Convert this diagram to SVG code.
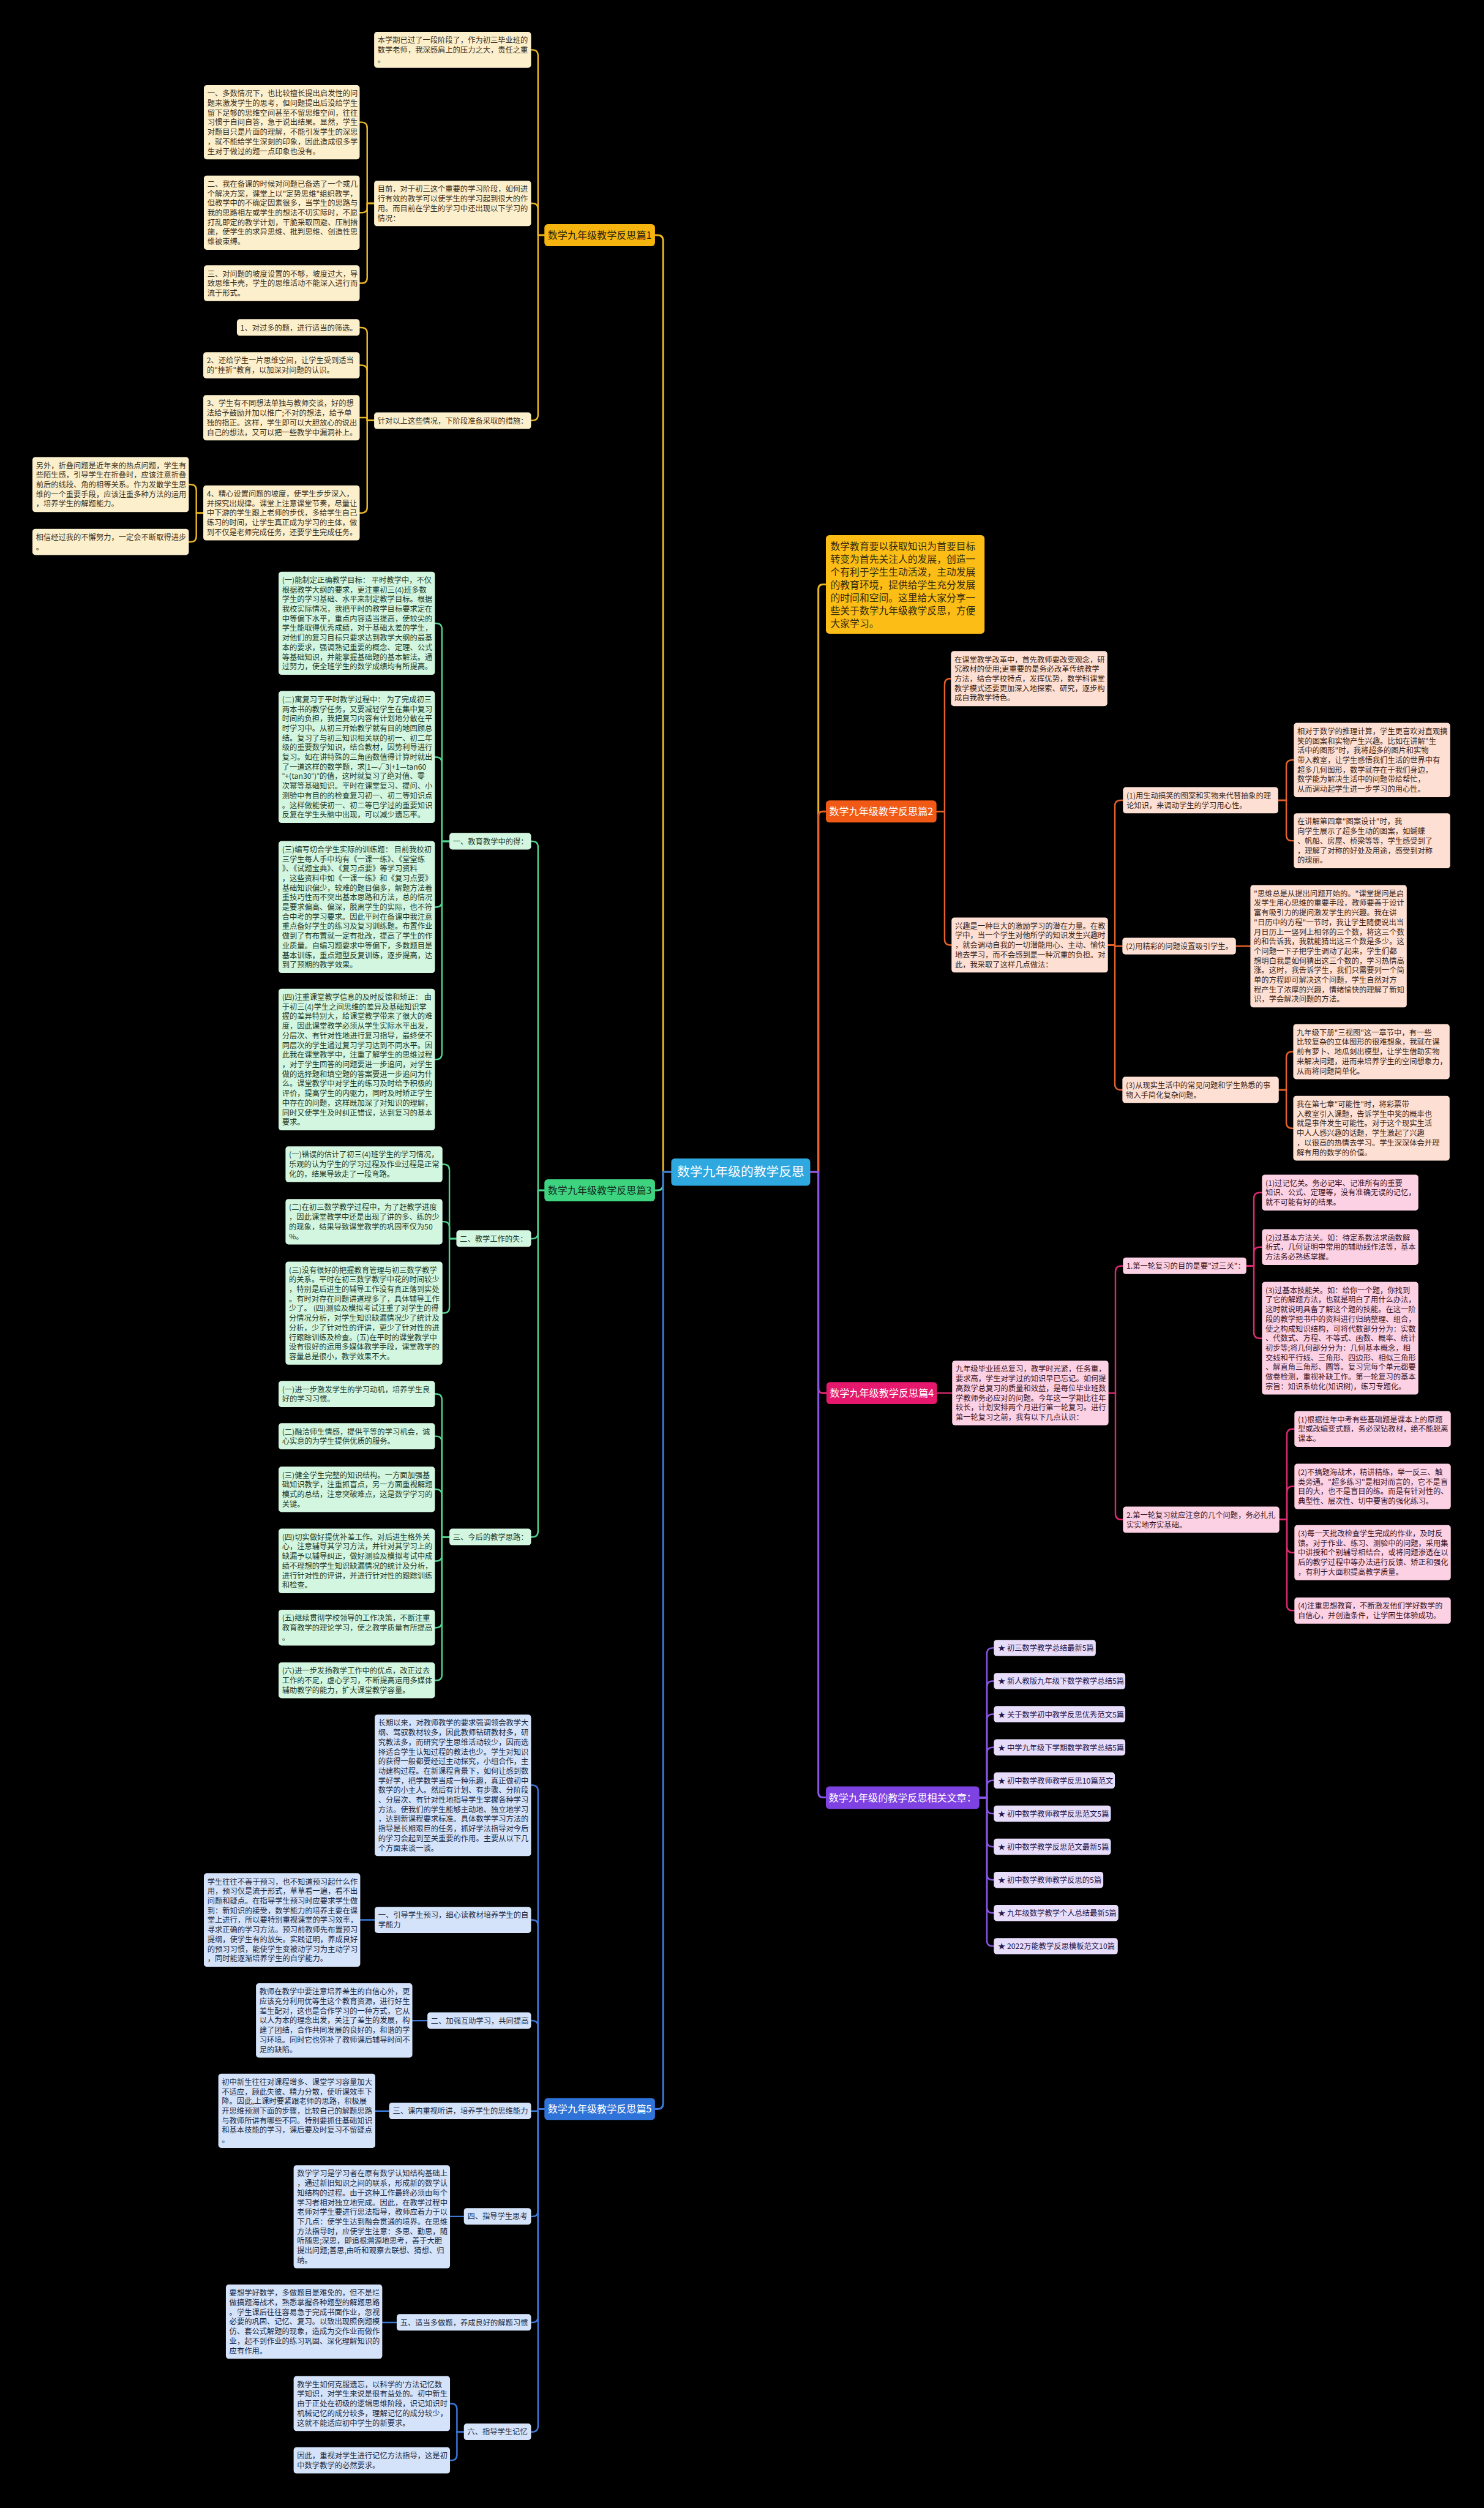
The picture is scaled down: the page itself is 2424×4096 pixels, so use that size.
<svg xmlns="http://www.w3.org/2000/svg" width="2424" height="4096" viewBox="0 0 2424 4096">
<style>
.tx{font-family:"Noto Sans CJK SC","Noto Sans CJK JP","Noto Sans",sans-serif;font-size:13px}
.mx{font-family:"Noto Sans CJK SC","Noto Sans CJK JP","Noto Sans",sans-serif;font-size:17px;text-anchor:middle}
.ln{fill:none;stroke-width:2.6;stroke-linecap:round;stroke-linejoin:round}
.tk{stroke-width:3.2}
.lY{stroke:#e9b425}.lG{stroke:#52d18c}.lB{stroke:#3b78d8}.lO{stroke:#e3622a}.lP{stroke:#dc2b71}.lV{stroke:#8a55e6}
.bY{fill:#fcefcc}.bG{fill:#d3f6e0}.bB{fill:#d4e3f9}.bO{fill:#fde0d3}.bP{fill:#fcd1e3}.bV{fill:#e7ddfa}
.cY{fill:#3a301c}.cG{fill:#1d3a2a}.cB{fill:#1b2a44}.cO{fill:#3a2418}.cP{fill:#3a1426}.cV{fill:#22154a}
</style>
<rect width="2424" height="4096" fill="#000"/>
<g transform="scale(0.946)">
<g id="connectors">
<path class="ln tk lY" d="M1159 2023 H1145 V416 Q1145 406 1135 406 H1131"/>
<path class="ln tk lG" d="M1159 2023 H1145 V2045 Q1145 2055 1135 2055 H1131"/>
<path class="ln tk lB" d="M1159 2023 H1145 V3631 Q1145 3641 1135 3641 H1131"/>
<path class="ln tk lY" d="M1399 2023 H1413 V1017 Q1413 1009 1421 1009 H1426"/>
<path class="ln tk lO" d="M1399 2023 H1413 V1409 Q1413 1401 1421 1401 H1426"/>
<path class="ln tk lP" d="M1399 2023 H1413 V2397 Q1413 2405 1421 2405 H1427"/>
<path class="ln tk lV" d="M1399 2023 H1413 V3095 Q1413 3103 1421 3103 H1426"/>
<path class="ln lY" d="M940 406 H929 V96 Q929 86 919 86 H917"/>
<path class="ln lY" d="M940 406 H929 V361 Q929 351 919 351 H917"/>
<path class="ln lY" d="M940 406 H929 V716 Q929 726 919 726 H917"/>
<path class="ln lY" d="M646 351 H634 V221 Q634 211 624 211 H621"/>
<path class="ln lY" d="M646 351 H634 V359 Q634 367 626 367 H621"/>
<path class="ln lY" d="M646 351 H634 V479 Q634 489 624 489 H621"/>
<path class="ln lY" d="M646 726 H634 V575.5 Q634 565.5 624 565.5 H621"/>
<path class="ln lY" d="M646 726 H634 V640.5 Q634 630.5 624 630.5 H621"/>
<path class="ln lY" d="M646 726 H634 V723.5 Q634 721 631.5 721 H621"/>
<path class="ln lY" d="M646 726 H634 V875.5 Q634 885.5 624 885.5 H621"/>
<path class="ln lY" d="M351 885.5 H339 V846.5 Q339 836.5 329 836.5 H326"/>
<path class="ln lY" d="M351 885.5 H339 V925.5 Q339 935.5 329 935.5 H326"/>
<path class="ln lG" d="M940 2055 H929 V1462.5 Q929 1452.5 919 1452.5 H917"/>
<path class="ln lG" d="M940 2055 H929 V2128.5 Q929 2138.5 919 2138.5 H917"/>
<path class="ln lG" d="M940 2055 H929 V2643.5 Q929 2653.5 919 2653.5 H917"/>
<path class="ln lG" d="M776 1452.5 H763 V1086 Q763 1076 753 1076 H751"/>
<path class="ln lG" d="M776 1452.5 H763 V1317 Q763 1307 753 1307 H751"/>
<path class="ln lG" d="M776 1452.5 H763 V1556 Q763 1566 753 1566 H751"/>
<path class="ln lG" d="M776 1452.5 H763 V1819 Q763 1829 753 1829 H751"/>
<path class="ln lG" d="M788 2138.5 H776 V2020 Q776 2010 766 2010 H764"/>
<path class="ln lG" d="M788 2138.5 H776 V2119 Q776 2109 766 2109 H764"/>
<path class="ln lG" d="M788 2138.5 H776 V2257 Q776 2267 766 2267 H764"/>
<path class="ln lG" d="M776 2653.5 H763 V2416.5 Q763 2406.5 753 2406.5 H751"/>
<path class="ln lG" d="M776 2653.5 H763 V2489.5 Q763 2479.5 753 2479.5 H751"/>
<path class="ln lG" d="M776 2653.5 H763 V2581 Q763 2571 753 2571 H751"/>
<path class="ln lG" d="M776 2653.5 H763 V2685 Q763 2695 753 2695 H751"/>
<path class="ln lG" d="M776 2653.5 H763 V2800 Q763 2810 753 2810 H751"/>
<path class="ln lG" d="M776 2653.5 H763 V2891 Q763 2901 753 2901 H751"/>
<path class="ln lB" d="M940 3641 H929 V3092 Q929 3082 919 3082 H917"/>
<path class="ln lB" d="M940 3641 H929 V3324.5 Q929 3314.5 919 3314.5 H917"/>
<path class="ln lB" d="M940 3641 H929 V3498.5 Q929 3488.5 919 3488.5 H917"/>
<path class="ln lB" d="M940 3641 H929 V3642.8 Q929 3644.5 927 3644.5 H917"/>
<path class="ln lB" d="M940 3641 H929 V3816.5 Q929 3826.5 919 3826.5 H917"/>
<path class="ln lB" d="M940 3641 H929 V3999.5 Q929 4009.5 919 4009.5 H917"/>
<path class="ln lB" d="M940 3641 H929 V4188.5 Q929 4198.5 919 4198.5 H917"/>
<path class="ln lB" d="M647 3314.5 H622"/>
<path class="ln lB" d="M738 3488.5 H712"/>
<path class="ln lB" d="M672 3644.5 H648"/>
<path class="ln lB" d="M801 3826.5 H777"/>
<path class="ln lB" d="M685 4009.5 H660"/>
<path class="ln lB" d="M801 4198.5 H789 V4159.5 Q789 4149.5 779 4149.5 H777"/>
<path class="ln lB" d="M801 4198.5 H789 V4237.5 Q789 4247.5 779 4247.5 H777"/>
<path class="ln lO" d="M1617 1401 H1631 V1181.5 Q1631 1171.5 1641 1171.5 H1642"/>
<path class="ln lO" d="M1617 1401 H1631 V1621.5 Q1631 1631.5 1641 1631.5 H1643"/>
<path class="ln lO" d="M1913 1631.5 H1925 V1391.5 Q1925 1381.5 1935 1381.5 H1939"/>
<path class="ln lO" d="M1913 1631.5 H1925 V1633.5 H1938"/>
<path class="ln lO" d="M1913 1631.5 H1925 V1871.5 Q1925 1881.5 1935 1881.5 H1938"/>
<path class="ln lO" d="M2207 1381.5 H2221 V1322 Q2221 1312 2231 1312 H2234"/>
<path class="ln lO" d="M2207 1381.5 H2221 V1441.5 Q2221 1451.5 2231 1451.5 H2234"/>
<path class="ln lO" d="M2134 1633.5 H2159"/>
<path class="ln lO" d="M2208 1881.5 H2221 V1825.5 Q2221 1815.5 2231 1815.5 H2233"/>
<path class="ln lO" d="M2208 1881.5 H2221 V1938 Q2221 1948 2231 1948 H2233"/>
<path class="ln lP" d="M1618 2405 H1644"/>
<path class="ln lP" d="M1914 2405 H1926 V2195.5 Q1926 2185.5 1936 2185.5 H1939"/>
<path class="ln lP" d="M1914 2405 H1926 V2613.5 Q1926 2623.5 1936 2623.5 H1939"/>
<path class="ln lP" d="M2152 2185.5 H2165 V2069 Q2165 2059 2175 2059 H2179"/>
<path class="ln lP" d="M2152 2185.5 H2165 V2163 Q2165 2153 2175 2153 H2179"/>
<path class="ln lP" d="M2152 2185.5 H2165 V2300.5 Q2165 2310.5 2175 2310.5 H2179"/>
<path class="ln lP" d="M2209 2623.5 H2222 V2477 Q2222 2467 2232 2467 H2235"/>
<path class="ln lP" d="M2209 2623.5 H2222 V2576 Q2222 2566 2232 2566 H2235"/>
<path class="ln lP" d="M2209 2623.5 H2222 V2670.5 Q2222 2680.5 2232 2680.5 H2235"/>
<path class="ln lP" d="M2209 2623.5 H2222 V2770.5 Q2222 2780.5 2232 2780.5 H2235"/>
<path class="ln lV" d="M1691 3103.5 H1704 V2855 Q1704 2845 1714 2845 H1716"/>
<path class="ln lV" d="M1691 3103.5 H1704 V2912.2 Q1704 2902.2 1714 2902.2 H1716"/>
<path class="ln lV" d="M1691 3103.5 H1704 V2969.4 Q1704 2959.4 1714 2959.4 H1716"/>
<path class="ln lV" d="M1691 3103.5 H1704 V3026.6 Q1704 3016.6 1714 3016.6 H1716"/>
<path class="ln lV" d="M1691 3103.5 H1704 V3083.8 Q1704 3073.8 1714 3073.8 H1716"/>
<path class="ln lV" d="M1691 3103.5 H1704 V3121 Q1704 3131 1714 3131 H1716"/>
<path class="ln lV" d="M1691 3103.5 H1704 V3178.2 Q1704 3188.2 1714 3188.2 H1716"/>
<path class="ln lV" d="M1691 3103.5 H1704 V3235.4 Q1704 3245.4 1714 3245.4 H1716"/>
<path class="ln lV" d="M1691 3103.5 H1704 V3292.6 Q1704 3302.6 1714 3302.6 H1716"/>
<path class="ln lV" d="M1691 3103.5 H1704 V3349.8 Q1704 3359.8 1714 3359.8 H1716"/>
</g>

<g id="n-center"><rect x="1159" y="2000" width="240" height="47" rx="6" fill="#2fa8e0"/><text class="mx" x="1279" y="2031" style="font-size:22px" fill="#fff">数学九年级的教学反思</text></g>
<g id="n-intro"><rect x="1426" y="924" width="274" height="170" rx="6" fill="#fbbd16"/><text class="tx" style="font-size:16.7px" fill="#332a10"><tspan x="1434" y="949.7">数学教育要以获取知识为首要目标</tspan><tspan x="1434" dy="22.2">转变为首先关注人的发展，创造一</tspan><tspan x="1434" dy="22.2">个有利于学生生动活泼，主动发展</tspan><tspan x="1434" dy="22.2">的教育环境，提供给学生充分发展</tspan><tspan x="1434" dy="22.2">的时间和空间。这里给大家分享一</tspan><tspan x="1434" dy="22.2">些关于数学九年级教学反思，方便</tspan><tspan x="1434" dy="22.2">大家学习。</tspan></text></g>

<g id="n-b1"><rect x="940" y="387" width="191" height="38" rx="6" fill="#f6b40e"/><text class="mx" x="1035.5" y="412" fill="#2b2410">数学九年级教学反思篇1</text></g>
<g id="n-b2"><rect x="1426" y="1382" width="191" height="38" rx="6" fill="#f05a16"/><text class="mx" x="1521.5" y="1407" fill="#fff">数学九年级教学反思篇2</text></g>
<g id="n-b3"><rect x="940" y="2036" width="191" height="38" rx="6" fill="#3ed47f"/><text class="mx" x="1035.5" y="2061" fill="#14301f">数学九年级教学反思篇3</text></g>
<g id="n-b4"><rect x="1427" y="2386" width="191" height="38" rx="6" fill="#e6186d"/><text class="mx" x="1522.5" y="2411" fill="#fff">数学九年级教学反思篇4</text></g>
<g id="n-b5"><rect x="940" y="3622" width="191" height="38" rx="6" fill="#2f73d9"/><text class="mx" x="1035.5" y="3647" fill="#fff">数学九年级教学反思篇5</text></g>
<g id="n-b6"><rect x="1426" y="3084" width="265" height="39" rx="6" fill="#7e42e3"/><text class="mx" x="1558.5" y="3109.5" fill="#fff">数学九年级的教学反思相关文章：</text></g>

<g id="n-y1"><rect class="bY" x="646" y="55" width="271" height="62" rx="5"/><text class="tx cY"><tspan x="652" y="74.3">本学期已过了一段阶段了，作为初三毕业班的</tspan><tspan x="652" dy="16.6">数学老师，我深感肩上的压力之大，责任之重</tspan><tspan x="652" dy="16.6">。</tspan></text></g>
<g id="n-y2"><rect class="bY" x="646" y="312" width="271" height="78.4" rx="5"/><text class="tx cY"><tspan x="652" y="331.3">目前，对于初三这个重要的学习阶段，如何进</tspan><tspan x="652" dy="16.6">行有效的教学可以使学生的学习起到很大的作</tspan><tspan x="652" dy="16.6">用。而目前在学生的学习中还出现以下学习的</tspan><tspan x="652" dy="16.6">情况：</tspan></text></g>
<g id="n-y2a"><rect class="bY" x="352" y="147" width="269" height="128.2" rx="5"/><text class="tx cY"><tspan x="358" y="166.3">一、多数情况下，也比较擅长提出启发性的问</tspan><tspan x="358" dy="16.6">题来激发学生的思考，但问题提出后没给学生</tspan><tspan x="358" dy="16.6">留下足够的思维空间甚至不留思维空间，往往</tspan><tspan x="358" dy="16.6">习惯于自问自答，急于说出结果。显然，学生</tspan><tspan x="358" dy="16.6">对题目只是片面的理解，不能引发学生的深思</tspan><tspan x="358" dy="16.6">，就不能给学生深刻的印象，因此造成很多学</tspan><tspan x="358" dy="16.6">生对于做过的题一点印象也没有。</tspan></text></g>
<g id="n-y2b"><rect class="bY" x="352" y="303" width="269" height="128.2" rx="5"/><text class="tx cY"><tspan x="358" y="322.3">二、我在备课的时候对问题已备选了一个或几</tspan><tspan x="358" dy="16.6">个解决方案，课堂上以"定势思维"组织教学，</tspan><tspan x="358" dy="16.6">但教学中的不确定因素很多，当学生的思路与</tspan><tspan x="358" dy="16.6">我的思路相左或学生的想法不切实际时，不愿</tspan><tspan x="358" dy="16.6">打乱即定的教学计划，干脆采取回避、压制措</tspan><tspan x="358" dy="16.6">施，使学生的求异思维、批判思维、创造性思</tspan><tspan x="358" dy="16.6">维被束缚。</tspan></text></g>
<g id="n-y2c"><rect class="bY" x="352" y="458" width="269" height="61.8" rx="5"/><text class="tx cY"><tspan x="358" y="477.3">三、对问题的坡度设置的不够，坡度过大，导</tspan><tspan x="358" dy="16.6">致思维卡壳，学生的思维活动不能深入进行而</tspan><tspan x="358" dy="16.6">流于形式。</tspan></text></g>
<g id="n-y3"><rect class="bY" x="646" y="712" width="271" height="28.6" rx="5"/><text class="tx cY"><tspan x="652" y="731.3">针对以上这些情况，下阶段准备采取的措施：</tspan></text></g>
<g id="n-y3a"><rect class="bY" x="409" y="551" width="212" height="28.6" rx="5"/><text class="tx cY"><tspan x="415" y="570.3">1、对过多的题，进行适当的筛选。</tspan></text></g>
<g id="n-y3b"><rect class="bY" x="351" y="608" width="270" height="45.2" rx="5"/><text class="tx cY"><tspan x="357" y="627.3">2、还给学生一片思维空间，让学生受到适当</tspan><tspan x="357" dy="16.6">的"挫折"教育，以加深对问题的认识。</tspan></text></g>
<g id="n-y3c"><rect class="bY" x="351" y="682" width="270" height="78.4" rx="5"/><text class="tx cY"><tspan x="357" y="701.3">3、学生有不同想法单独与教师交谈，好的想</tspan><tspan x="357" dy="16.6">法给予鼓励并加以推广;不对的想法，给予单</tspan><tspan x="357" dy="16.6">独的指正。这样，学生即可以大胆放心的说出</tspan><tspan x="357" dy="16.6">自己的想法，又可以把一些教学中漏洞补上。</tspan></text></g>
<g id="n-y3d"><rect class="bY" x="351" y="838" width="270" height="95" rx="5"/><text class="tx cY"><tspan x="357" y="857.3">4、精心设置问题的坡度，使学生步步深入，</tspan><tspan x="357" dy="16.6">并探究出规律。课堂上注意课堂节奏，尽量让</tspan><tspan x="357" dy="16.6">中下游的学生跟上老师的步伐，多给学生自己</tspan><tspan x="357" dy="16.6">练习的时间，让学生真正成为学习的主体，做</tspan><tspan x="357" dy="16.6">到不仅是老师完成任务，还要学生完成任务。</tspan></text></g>
<g id="n-y3d1"><rect class="bY" x="56" y="789" width="270" height="95" rx="5"/><text class="tx cY"><tspan x="62" y="808.3">另外，折叠问题是近年来的热点问题，学生有</tspan><tspan x="62" dy="16.6">些陌生感，引导学生在折叠时，应该注意折叠</tspan><tspan x="62" dy="16.6">前后的线段、角的相等关系。作为发散学生思</tspan><tspan x="62" dy="16.6">维的一个重要手段，应该注重多种方法的运用</tspan><tspan x="62" dy="16.6">，培养学生的解题能力。</tspan></text></g>
<g id="n-y3d2"><rect class="bY" x="56" y="913" width="270" height="45.2" rx="5"/><text class="tx cY"><tspan x="62" y="932.3">相信经过我的不懈努力，一定会不断取得进步</tspan><tspan x="62" dy="16.6">。</tspan></text></g>

<g id="n-g1"><rect class="bG" x="776" y="1438" width="141" height="28.6" rx="5"/><text class="tx cG"><tspan x="782" y="1457.3">一、教育教学中的得：</tspan></text></g>
<g id="n-g1a"><rect class="bG" x="481" y="987" width="270" height="178" rx="5"/><text class="tx cG"><tspan x="487" y="1006.3">(一)能制定正确教学目标： 平时教学中，不仅</tspan><tspan x="487" dy="16.6">根据教学大纲的要求，更注重初三(4)班多数</tspan><tspan x="487" dy="16.6">学生的学习基础、水平来制定教学目标。根据</tspan><tspan x="487" dy="16.6">我校实际情况，我把平时的教学目标要求定在</tspan><tspan x="487" dy="16.6">中等偏下水平，重点内容适当提高，使较尖的</tspan><tspan x="487" dy="16.6">学生能取得优秀成绩，对于基础太差的学生，</tspan><tspan x="487" dy="16.6">对他们的复习目标只要求达到教学大纲的最基</tspan><tspan x="487" dy="16.6">本的要求，强调熟记重要的概念、定理、公式</tspan><tspan x="487" dy="16.6">等基础知识，并能掌握基础题的基本解法。通</tspan><tspan x="487" dy="16.6">过努力，使全班学生的数学成绩均有所提高。</tspan></text></g>
<g id="n-g1b"><rect class="bG" x="481" y="1193" width="270" height="227.8" rx="5"/><text class="tx cG"><tspan x="487" y="1212.3">(二)寓复习于平时教学过程中： 为了完成初三</tspan><tspan x="487" dy="16.6">两本书的教学任务，又要减轻学生在集中复习</tspan><tspan x="487" dy="16.6">时间的负担，我把复习内容有计划地分散在平</tspan><tspan x="487" dy="16.6">时学习中。从初三开始教学就有目的地回顾总</tspan><tspan x="487" dy="16.6">结。复习了与初三知识相关联的初一、初二年</tspan><tspan x="487" dy="16.6">级的重要数学知识，结合教材，因势利导进行</tspan><tspan x="487" dy="16.6">复习。如在讲特殊的三角函数值得计算时就出</tspan><tspan x="487" dy="16.6">了一道这样的数学题，求|1—√3|+1—tan60</tspan><tspan x="487" dy="16.6">°+(tan30°)°的值，这时就复习了绝对值、零</tspan><tspan x="487" dy="16.6">次幂等基础知识。平时在课堂复习、提问、小</tspan><tspan x="487" dy="16.6">测验中有目的的检查复习初一、初二等知识点</tspan><tspan x="487" dy="16.6">。这样做能使初一、初二等已学过的重要知识</tspan><tspan x="487" dy="16.6">反复在学生头脑中出现，可以减少遗忘率。</tspan></text></g>
<g id="n-g1c"><rect class="bG" x="481" y="1452" width="270" height="227.8" rx="5"/><text class="tx cG"><tspan x="487" y="1471.3">(三)编写切合学生实际的训练题： 目前我校初</tspan><tspan x="487" dy="16.6">三学生每人手中均有《一课一练》、《堂堂练</tspan><tspan x="487" dy="16.6">》、《试题宝典》、《复习点要》等学习资料</tspan><tspan x="487" dy="16.6">，这些资料中如《一课一练》和《复习点要》</tspan><tspan x="487" dy="16.6">基础知识偏少，较难的题目偏多，解题方法着</tspan><tspan x="487" dy="16.6">重技巧性而不突出基本思路和方法，总的情况</tspan><tspan x="487" dy="16.6">是要求偏高、偏深，脱离学生的实际，也不符</tspan><tspan x="487" dy="16.6">合中考的学习要求。因此平时在备课中我注意</tspan><tspan x="487" dy="16.6">重点备好学生的练习及复习训练题。布置作业</tspan><tspan x="487" dy="16.6">做到了有布置就一定有批改，提高了学生的作</tspan><tspan x="487" dy="16.6">业质量。自编习题要求中等偏下，多数题目是</tspan><tspan x="487" dy="16.6">基本训练，重点题型反复训练，逐步提高，达</tspan><tspan x="487" dy="16.6">到了预期的教学效果。</tspan></text></g>
<g id="n-g1d"><rect class="bG" x="481" y="1707" width="270" height="244.4" rx="5"/><text class="tx cG"><tspan x="487" y="1726.3">(四)注重课堂教学信息的及时反馈和矫正： 由</tspan><tspan x="487" dy="16.6">于初三(4)学生之间思维的差异及基础知识掌</tspan><tspan x="487" dy="16.6">握的差异特别大，给课堂教学带来了很大的难</tspan><tspan x="487" dy="16.6">度，因此课堂教学必须从学生实际水平出发，</tspan><tspan x="487" dy="16.6">分层次、有针对性地进行复习指导，最终使不</tspan><tspan x="487" dy="16.6">同层次的学生通过复习学习达到不同水平。因</tspan><tspan x="487" dy="16.6">此我在课堂教学中，注重了解学生的思维过程</tspan><tspan x="487" dy="16.6">，对于学生回答的问题要进一步追问，对学生</tspan><tspan x="487" dy="16.6">做的选择题和填空题的答案要进一步追问为什</tspan><tspan x="487" dy="16.6">么。课堂教学中对学生的练习及时给予积极的</tspan><tspan x="487" dy="16.6">评价，提高学生的内驱力，同时及时矫正学生</tspan><tspan x="487" dy="16.6">中存在的问题，这样既加深了对知识的理解，</tspan><tspan x="487" dy="16.6">同时又使学生及时纠正错误，达到复习的基本</tspan><tspan x="487" dy="16.6">要求。</tspan></text></g>
<g id="n-g2"><rect class="bG" x="788" y="2124" width="129" height="28.6" rx="5"/><text class="tx cG"><tspan x="794" y="2143.3">二、教学工作的失：</tspan></text></g>
<g id="n-g2a"><rect class="bG" x="493" y="1979" width="271" height="61.8" rx="5"/><text class="tx cG"><tspan x="499" y="1998.3">(一)错误的估计了初三(4)班学生的学习情况，</tspan><tspan x="499" dy="16.6">乐观的认为学生的学习过程及作业过程是正常</tspan><tspan x="499" dy="16.6">化的，结果导致走了一段弯路。</tspan></text></g>
<g id="n-g2b"><rect class="bG" x="493" y="2070" width="271" height="78.4" rx="5"/><text class="tx cG"><tspan x="499" y="2089.3">(二)在初三数学教学过程中，为了赶教学进度</tspan><tspan x="499" dy="16.6">，因此课堂教学中还是出现了讲的多、练的少</tspan><tspan x="499" dy="16.6">的现象，结果导致课堂教学的巩固率仅为50</tspan><tspan x="499" dy="16.6">%。</tspan></text></g>
<g id="n-g2c"><rect class="bG" x="493" y="2178" width="271" height="178" rx="5"/><text class="tx cG"><tspan x="499" y="2197.3">(三)没有很好的把握教育管理与初三数学教学</tspan><tspan x="499" dy="16.6">的关系。平时在初三数学教学中花的时间较少</tspan><tspan x="499" dy="16.6">，特别是后进生的辅导工作没有真正落到实处</tspan><tspan x="499" dy="16.6">。有时对存在问题讲道理多了，具体辅导工作</tspan><tspan x="499" dy="16.6">少了。 (四)测验及模拟考试注重了对学生的得</tspan><tspan x="499" dy="16.6">分情况分析，对学生知识缺漏情况少了统计及</tspan><tspan x="499" dy="16.6">分析，少了针对性的评讲，更少了针对性的进</tspan><tspan x="499" dy="16.6">行跟踪训练及检查。(五)在平时的课堂教学中</tspan><tspan x="499" dy="16.6">没有很好的运用多媒体教学手段，课堂教学的</tspan><tspan x="499" dy="16.6">容量总是很小，教学效果不大。</tspan></text></g>
<g id="n-g3"><rect class="bG" x="776" y="2639" width="141" height="28.6" rx="5"/><text class="tx cG"><tspan x="782" y="2658.3">三、今后的教学思路：</tspan></text></g>
<g id="n-g3a"><rect class="bG" x="481" y="2384" width="270" height="45.2" rx="5"/><text class="tx cG"><tspan x="487" y="2403.3">(一)进一步激发学生的学习动机，培养学生良</tspan><tspan x="487" dy="16.6">好的学习习惯。</tspan></text></g>
<g id="n-g3b"><rect class="bG" x="481" y="2457" width="270" height="45.2" rx="5"/><text class="tx cG"><tspan x="487" y="2476.3">(二)融洽师生情感，提供平等的学习机会，诚</tspan><tspan x="487" dy="16.6">心实意的为学生提供优质的服务。</tspan></text></g>
<g id="n-g3c"><rect class="bG" x="481" y="2532" width="270" height="78.4" rx="5"/><text class="tx cG"><tspan x="487" y="2551.3">(三)健全学生完整的知识结构。一方面加强基</tspan><tspan x="487" dy="16.6">础知识教学，注重抓盲点，另一方面重视解题</tspan><tspan x="487" dy="16.6">模式的总结，注意突破难点，这是数学学习的</tspan><tspan x="487" dy="16.6">关键。</tspan></text></g>
<g id="n-g3d"><rect class="bG" x="481" y="2639" width="270" height="111.6" rx="5"/><text class="tx cG"><tspan x="487" y="2658.3">(四)切实做好提优补差工作。对后进生格外关</tspan><tspan x="487" dy="16.6">心，注意辅导其学习方法，并针对其学习上的</tspan><tspan x="487" dy="16.6">缺漏予以辅导纠正，做好测验及模拟考试中成</tspan><tspan x="487" dy="16.6">绩不理想的学生知识缺漏情况的统计及分析，</tspan><tspan x="487" dy="16.6">进行针对性的评讲，并进行针对性的跟踪训练</tspan><tspan x="487" dy="16.6">和检查。</tspan></text></g>
<g id="n-g3e"><rect class="bG" x="481" y="2779" width="270" height="61.8" rx="5"/><text class="tx cG"><tspan x="487" y="2798.3">(五)继续贯彻学校领导的工作决策，不断注重</tspan><tspan x="487" dy="16.6">教育教学的理论学习，使之教学质量有所提高</tspan><tspan x="487" dy="16.6">。</tspan></text></g>
<g id="n-g3f"><rect class="bG" x="481" y="2870" width="270" height="61.8" rx="5"/><text class="tx cG"><tspan x="487" y="2889.3">(六)进一步发扬教学工作中的优点，改正过去</tspan><tspan x="487" dy="16.6">工作的不足，虚心学习，不断提高运用多媒体</tspan><tspan x="487" dy="16.6">辅助教学的能力，扩大课堂教学容量。</tspan></text></g>

<g id="n-u1"><rect class="bB" x="647" y="2960" width="270" height="244.4" rx="5"/><text class="tx cB"><tspan x="653" y="2979.3">长期以来，对教师教学的要求强调领会教学大</tspan><tspan x="653" dy="16.6">纲、驾驭教材较多，因此教师钻研教材多，研</tspan><tspan x="653" dy="16.6">究教法多，而研究学生思维活动较少，因而选</tspan><tspan x="653" dy="16.6">择适合学生认知过程的教法也少。学生对知识</tspan><tspan x="653" dy="16.6">的获得一般都要经过主动探究，小组合作，主</tspan><tspan x="653" dy="16.6">动建构过程。在新课程背景下，如何让感到数</tspan><tspan x="653" dy="16.6">学好学，把学数学当成一种乐趣，真正做初中</tspan><tspan x="653" dy="16.6">数学的小主人。然后有计划、有步骤、分阶段</tspan><tspan x="653" dy="16.6">、分层次、有针对性地指导学生掌握各种学习</tspan><tspan x="653" dy="16.6">方法。使我们的学生能够主动地、独立地学习</tspan><tspan x="653" dy="16.6">，达到新课程要求标准。具体数学学习方法的</tspan><tspan x="653" dy="16.6">指导是长期艰巨的任务，抓好学法指导对今后</tspan><tspan x="653" dy="16.6">的学习会起到至关重要的作用。主要从以下几</tspan><tspan x="653" dy="16.6">个方面来谈一谈。</tspan></text></g>
<g id="n-u2"><rect class="bB" x="647" y="3292" width="270" height="45.2" rx="5"/><text class="tx cB"><tspan x="653" y="3311.3">一、引导学生预习，细心读教材培养学生的自</tspan><tspan x="653" dy="16.6">学能力</tspan></text></g>
<g id="n-u2a"><rect class="bB" x="352" y="3234" width="270" height="161.4" rx="5"/><text class="tx cB"><tspan x="358" y="3253.3">学生往往不善于预习，也不知道预习起什么作</tspan><tspan x="358" dy="16.6">用，预习仅是流于形式，草草看一遍，看不出</tspan><tspan x="358" dy="16.6">问题和疑点。在指导学生预习时应要求学生做</tspan><tspan x="358" dy="16.6">到：新知识的接受，数学能力的培养主要在课</tspan><tspan x="358" dy="16.6">堂上进行，所以要特别重视课堂的学习效率，</tspan><tspan x="358" dy="16.6">寻求正确的学习方法。预习前教师先布置预习</tspan><tspan x="358" dy="16.6">提纲，使学生有的放矢。实践证明，养成良好</tspan><tspan x="358" dy="16.6">的预习习惯，能使学生变被动学习为主动学习</tspan><tspan x="358" dy="16.6">，同时能逐渐培养学生的自学能力。</tspan></text></g>
<g id="n-u3"><rect class="bB" x="738" y="3474" width="179" height="28.6" rx="5"/><text class="tx cB"><tspan x="744" y="3493.3">二、加强互助学习，共同提高</tspan></text></g>
<g id="n-u3a"><rect class="bB" x="442" y="3424" width="270" height="128.2" rx="5"/><text class="tx cB"><tspan x="448" y="3443.3">教师在教学中要注意培养差生的自信心外，更</tspan><tspan x="448" dy="16.6">应该充分利用优等生这个教育资源，进行好生</tspan><tspan x="448" dy="16.6">差生配对，这也是合作学习的一种方式，它从</tspan><tspan x="448" dy="16.6">以人为本的理念出发，关注了差生的发展，构</tspan><tspan x="448" dy="16.6">建了团结，合作共同发展的良好的，和谐的学</tspan><tspan x="448" dy="16.6">习环境。同时它也弥补了教师课后辅导时间不</tspan><tspan x="448" dy="16.6">足的缺陷。</tspan></text></g>
<g id="n-u4"><rect class="bB" x="672" y="3630" width="245" height="28.6" rx="5"/><text class="tx cB"><tspan x="678" y="3649.3">三、课内重视听讲，培养学生的思维能力</tspan></text></g>
<g id="n-u4a"><rect class="bB" x="377" y="3580" width="271" height="128.2" rx="5"/><text class="tx cB"><tspan x="383" y="3599.3">初中新生往往对课程增多、课堂学习容量加大</tspan><tspan x="383" dy="16.6">不适应，顾此失彼、精力分散，使听课效率下</tspan><tspan x="383" dy="16.6">降。因此,上课时要紧跟老师的思路，积极展</tspan><tspan x="383" dy="16.6">开思维预测下面的步骤，比较自己的解题思路</tspan><tspan x="383" dy="16.6">与教师所讲有哪些不同。特别要抓住基础知识</tspan><tspan x="383" dy="16.6">和基本技能的学习，课后要及时复习不留疑点</tspan><tspan x="383" dy="16.6">。</tspan></text></g>
<g id="n-u5"><rect class="bB" x="801" y="3812" width="116" height="28.6" rx="5"/><text class="tx cB"><tspan x="807" y="3831.3">四、指导学生思考</tspan></text></g>
<g id="n-u5a"><rect class="bB" x="507" y="3738" width="270" height="178" rx="5"/><text class="tx cB"><tspan x="513" y="3757.3">数学学习是学习者在原有数学认知结构基础上</tspan><tspan x="513" dy="16.6">，通过新旧知识之间的联系，形成新的数学认</tspan><tspan x="513" dy="16.6">知结构的过程。由于这种工作最终必须由每个</tspan><tspan x="513" dy="16.6">学习者相对独立地完成。因此，在教学过程中</tspan><tspan x="513" dy="16.6">老师对学生要进行思法指导，教师应着力于以</tspan><tspan x="513" dy="16.6">下几点：使学生达到融会贯通的境界。在思维</tspan><tspan x="513" dy="16.6">方法指导时，应使学生注意：多思、勤思，随</tspan><tspan x="513" dy="16.6">听随思;深思，即追根溯源地思考，善于大胆</tspan><tspan x="513" dy="16.6">提出问题;善思,由听和观察去联想、猜想、归</tspan><tspan x="513" dy="16.6">纳。</tspan></text></g>
<g id="n-u6"><rect class="bB" x="685" y="3995" width="232" height="28.6" rx="5"/><text class="tx cB"><tspan x="691" y="4014.3">五、适当多做题，养成良好的解题习惯</tspan></text></g>
<g id="n-u6a"><rect class="bB" x="390" y="3944" width="270" height="128.2" rx="5"/><text class="tx cB"><tspan x="396" y="3963.3">要想学好数学，多做题目是难免的，但不是烂</tspan><tspan x="396" dy="16.6">做搞题海战术，熟悉掌握各种题型的解题思路</tspan><tspan x="396" dy="16.6">。学生课后往往容易急于完成书面作业，忽视</tspan><tspan x="396" dy="16.6">必要的巩固、记忆、复习。以致出现照例题模</tspan><tspan x="396" dy="16.6">仿、套公式解题的现象，造成为交作业而做作</tspan><tspan x="396" dy="16.6">业，起不到作业的练习巩固、深化理解知识的</tspan><tspan x="396" dy="16.6">应有作用。</tspan></text></g>
<g id="n-u7"><rect class="bB" x="801" y="4184" width="116" height="28.6" rx="5"/><text class="tx cB"><tspan x="807" y="4203.3">六、指导学生记忆</tspan></text></g>
<g id="n-u7a"><rect class="bB" x="507" y="4102" width="270" height="95" rx="5"/><text class="tx cB"><tspan x="513" y="4121.3">教学生如何克服遗忘，以科学的'方法记忆数</tspan><tspan x="513" dy="16.6">学知识，对学生来说是很有益处的。初中新生</tspan><tspan x="513" dy="16.6">由于正处在初级的逻辑思维阶段，识记知识时</tspan><tspan x="513" dy="16.6">机械记忆的成分较多，理解记忆的成分较少，</tspan><tspan x="513" dy="16.6">这就不能适应初中学生的新要求。</tspan></text></g>
<g id="n-u7b"><rect class="bB" x="507" y="4225" width="270" height="45.2" rx="5"/><text class="tx cB"><tspan x="513" y="4244.3">因此，重视对学生进行记忆方法指导，这是初</tspan><tspan x="513" dy="16.6">中数学教学的必然要求。</tspan></text></g>

<g id="n-o1"><rect class="bO" x="1642" y="1124" width="270" height="95" rx="5"/><text class="tx cO"><tspan x="1648" y="1143.3">在课堂教学改革中，首先教师要改变观念，研</tspan><tspan x="1648" dy="16.6">究教材的使用;更重要的是务必改革传统教学</tspan><tspan x="1648" dy="16.6">方法，结合学校特点，发挥优势，数学科课堂</tspan><tspan x="1648" dy="16.6">教学模式还要更加深入地探索、研究，逐步构</tspan><tspan x="1648" dy="16.6">成自我教学特色。</tspan></text></g>
<g id="n-o2"><rect class="bO" x="1643" y="1584" width="270" height="95" rx="5"/><text class="tx cO"><tspan x="1649" y="1603.3">兴趣是一种巨大的激励学习的潜在力量。在教</tspan><tspan x="1649" dy="16.6">学中，当一个学生对他所学的知识发生兴趣时</tspan><tspan x="1649" dy="16.6">，就会调动自我的一切潜能用心、主动、愉快</tspan><tspan x="1649" dy="16.6">地去学习，而不会感到是一种沉重的负担。对</tspan><tspan x="1649" dy="16.6">此，我采取了这样几点做法：</tspan></text></g>
<g id="n-o2a"><rect class="bO" x="1939" y="1359" width="268" height="45.2" rx="5"/><text class="tx cO"><tspan x="1945" y="1378.3">(1)用生动搞笑的图案和实物来代替抽象的理</tspan><tspan x="1945" dy="16.6">论知识，来调动学生的学习用心性。</tspan></text></g>
<g id="n-o2a1"><rect class="bO" x="2234" y="1248" width="270" height="128.2" rx="5"/><text class="tx cO"><tspan x="2240" y="1267.3">相对于数学的推理计算，学生更喜欢对直观搞</tspan><tspan x="2240" dy="16.6">笑的图案和实物产生兴趣。比如在讲解"生</tspan><tspan x="2240" dy="16.6">活中的图形"时，我将超多的图片和实物</tspan><tspan x="2240" dy="16.6">带入教室，让学生感悟我们生活的世界中有</tspan><tspan x="2240" dy="16.6">超多几何图形，数学就存在于我们身边，</tspan><tspan x="2240" dy="16.6">数学能为解决生活中的问题带给帮忙，</tspan><tspan x="2240" dy="16.6">从而调动起学生进一步学习的用心性。</tspan></text></g>
<g id="n-o2a2"><rect class="bO" x="2234" y="1404" width="270" height="95" rx="5"/><text class="tx cO"><tspan x="2240" y="1423.3">在讲解第四章"图案设计"时，我</tspan><tspan x="2240" dy="16.6">向学生展示了超多生动的图案，如蝴蝶</tspan><tspan x="2240" dy="16.6">、帆船、房屋、桥梁等等，学生感受到了</tspan><tspan x="2240" dy="16.6">，理解了对称的好处及用途，感受到对称</tspan><tspan x="2240" dy="16.6">的瑰丽。</tspan></text></g>
<g id="n-o2b"><rect class="bO" x="1938" y="1619" width="196" height="28.6" rx="5"/><text class="tx cO"><tspan x="1944" y="1638.3">(2)用精彩的问题设置吸引学生。</tspan></text></g>
<g id="n-o2b1"><rect class="bO" x="2159" y="1528" width="270" height="211.2" rx="5"/><text class="tx cO"><tspan x="2165" y="1547.3">"思维总是从提出问题开始的。"课堂提问是启</tspan><tspan x="2165" dy="16.6">发学生用心思维的重要手段，教师要善于设计</tspan><tspan x="2165" dy="16.6">富有吸引力的提问激发学生的兴趣。我在讲</tspan><tspan x="2165" dy="16.6">"日历中的方程"一节时，我让学生随便说出当</tspan><tspan x="2165" dy="16.6">月日历上一竖列上相邻的三个数，将这三个数</tspan><tspan x="2165" dy="16.6">的和告诉我，我就能猜出这三个数是多少。这</tspan><tspan x="2165" dy="16.6">个问题一下子把学生调动了起来，学生们都</tspan><tspan x="2165" dy="16.6">想明白我是如何猜出这三个数的，学习热情高</tspan><tspan x="2165" dy="16.6">涨。这时，我告诉学生，我们只需要列一个简</tspan><tspan x="2165" dy="16.6">单的方程即可解决这个问题，学生自然对方</tspan><tspan x="2165" dy="16.6">程产生了浓厚的兴趣，情绪愉快的理解了新知</tspan><tspan x="2165" dy="16.6">识，学会解决问题的方法。</tspan></text></g>
<g id="n-o2c"><rect class="bO" x="1938" y="1859" width="270" height="45.2" rx="5"/><text class="tx cO"><tspan x="1944" y="1878.3">(3)从现实生活中的常见问题和学生熟悉的事</tspan><tspan x="1944" dy="16.6">物入手简化复杂问题。</tspan></text></g>
<g id="n-o2c1"><rect class="bO" x="2233" y="1768" width="270" height="95" rx="5"/><text class="tx cO"><tspan x="2239" y="1787.3">九年级下册"三视图"这一章节中，有一些</tspan><tspan x="2239" dy="16.6">比较复杂的立体图形的很难想象，我就在课</tspan><tspan x="2239" dy="16.6">前有萝卜、地瓜刻出模型，让学生借助实物</tspan><tspan x="2239" dy="16.6">来解决问题，进而来培养学生的空间想象力，</tspan><tspan x="2239" dy="16.6">从而将问题简单化。</tspan></text></g>
<g id="n-o2c2"><rect class="bO" x="2233" y="1892" width="270" height="111.6" rx="5"/><text class="tx cO"><tspan x="2239" y="1911.3">我在第七章"可能性"时，将彩票带</tspan><tspan x="2239" dy="16.6">入教室引入课题，告诉学生中奖的概率也</tspan><tspan x="2239" dy="16.6">就是事件发生可能性。对于这个现实生活</tspan><tspan x="2239" dy="16.6">中人人感兴趣的话题，学生激起了兴趣</tspan><tspan x="2239" dy="16.6">，以很高的热情去学习。学生深深体会并理</tspan><tspan x="2239" dy="16.6">解有用的数学的价值。</tspan></text></g>

<g id="n-p1"><rect class="bP" x="1644" y="2349" width="270" height="111.6" rx="5"/><text class="tx cP"><tspan x="1650" y="2368.3">九年级毕业班总复习，教学时光紧，任务重，</tspan><tspan x="1650" dy="16.6">要求高，学生对学过的知识早已忘记。如何提</tspan><tspan x="1650" dy="16.6">高数学总复习的质量和效益，是每位毕业班数</tspan><tspan x="1650" dy="16.6">学教师务必应对的问题。今年这一学期比往年</tspan><tspan x="1650" dy="16.6">较长，计划安排两个月进行第一轮复习。进行</tspan><tspan x="1650" dy="16.6">第一轮复习之前，我有以下几点认识：</tspan></text></g>
<g id="n-p1a"><rect class="bP" x="1939" y="2171" width="213" height="28.6" rx="5"/><text class="tx cP"><tspan x="1945" y="2190.3">1.第一轮复习的目的是要"过三关"：</tspan></text></g>
<g id="n-p1a1"><rect class="bP" x="2179" y="2028" width="270" height="61.8" rx="5"/><text class="tx cP"><tspan x="2185" y="2047.3">(1)过记忆关。务必记牢、记准所有的重要</tspan><tspan x="2185" dy="16.6">知识、公式、定理等，没有准确无误的记忆，</tspan><tspan x="2185" dy="16.6">就不可能有好的结果。</tspan></text></g>
<g id="n-p1a2"><rect class="bP" x="2179" y="2122" width="270" height="61.8" rx="5"/><text class="tx cP"><tspan x="2185" y="2141.3">(2)过基本方法关。如：待定系数法求函数解</tspan><tspan x="2185" dy="16.6">析式，几何证明中常用的辅助线作法等，基本</tspan><tspan x="2185" dy="16.6">方法务必熟练掌握。</tspan></text></g>
<g id="n-p1a3"><rect class="bP" x="2179" y="2213" width="270" height="194.6" rx="5"/><text class="tx cP"><tspan x="2185" y="2232.3">(3)过基本技能关。如：给你一个题，你找到</tspan><tspan x="2185" dy="16.6">了它的解题方法，也就是明白了用什么办法，</tspan><tspan x="2185" dy="16.6">这时就说明具备了解这个题的技能。在这一阶</tspan><tspan x="2185" dy="16.6">段的教学把书中的资料进行归纳整理、组合，</tspan><tspan x="2185" dy="16.6">使之构成知识结构，可将代数部分分为：实数</tspan><tspan x="2185" dy="16.6">、代数式、方程、不等式、函数、概率、统计</tspan><tspan x="2185" dy="16.6">初步等;将几何部分分为：几何基本概念，相</tspan><tspan x="2185" dy="16.6">交线和平行线、三角形、四边形、相似三角形</tspan><tspan x="2185" dy="16.6">、解直角三角形、圆等。复习完每个单元都要</tspan><tspan x="2185" dy="16.6">做卷检测，重视补缺工作。第一轮复习的基本</tspan><tspan x="2185" dy="16.6">宗旨：知识系统化(知识树)，练习专题化。</tspan></text></g>
<g id="n-p1b"><rect class="bP" x="1939" y="2601" width="270" height="45.2" rx="5"/><text class="tx cP"><tspan x="1945" y="2620.3">2.第一轮复习就应注意的几个问题，务必扎扎</tspan><tspan x="1945" dy="16.6">实实地夯实基础。</tspan></text></g>
<g id="n-p1b1"><rect class="bP" x="2235" y="2436" width="270" height="61.8" rx="5"/><text class="tx cP"><tspan x="2241" y="2455.3">(1)根据往年中考有些基础题是课本上的原题</tspan><tspan x="2241" dy="16.6">型或改编变式题，务必深钻教材，绝不能脱离</tspan><tspan x="2241" dy="16.6">课本。</tspan></text></g>
<g id="n-p1b2"><rect class="bP" x="2235" y="2527" width="270" height="78.4" rx="5"/><text class="tx cP"><tspan x="2241" y="2546.3">(2)不搞题海战术，精讲精练，举一反三、触</tspan><tspan x="2241" dy="16.6">类旁通。"超多练习"是相对而言的，它不是盲</tspan><tspan x="2241" dy="16.6">目的大，也不是盲目的练。而是有针对性的、</tspan><tspan x="2241" dy="16.6">典型性、层次性、切中要害的强化练习。</tspan></text></g>
<g id="n-p1b3"><rect class="bP" x="2235" y="2633" width="270" height="95" rx="5"/><text class="tx cP"><tspan x="2241" y="2652.3">(3)每一天批改检查学生完成的作业，及时反</tspan><tspan x="2241" dy="16.6">馈。对于作业、练习、测验中的问题，采用集</tspan><tspan x="2241" dy="16.6">中讲授和个别辅导相结合，或将问题渗透在以</tspan><tspan x="2241" dy="16.6">后的教学过程中等办法进行反馈、矫正和强化</tspan><tspan x="2241" dy="16.6">，有利于大面积提高教学质量。</tspan></text></g>
<g id="n-p1b4"><rect class="bP" x="2235" y="2758" width="270" height="45.2" rx="5"/><text class="tx cP"><tspan x="2241" y="2777.3">(4)注重思想教育，不断激发他们学好数学的</tspan><tspan x="2241" dy="16.6">自信心，并创造条件，让学困生体验成功。</tspan></text></g>

<g id="n-v1"><rect class="bV" x="1716" y="2831" width="176" height="28" rx="5"/><text class="tx cV" x="1723" y="2850.3">★ 初三数学教学总结最新5篇</text></g>
<g id="n-v2"><rect class="bV" x="1716" y="2888.2" width="227" height="28" rx="5"/><text class="tx cV" x="1723" y="2907.5">★ 新人教版九年级下数学教学总结5篇</text></g>
<g id="n-v3"><rect class="bV" x="1716" y="2945.4" width="227" height="28" rx="5"/><text class="tx cV" x="1723" y="2964.7">★ 关于数学初中教学反思优秀范文5篇</text></g>
<g id="n-v4"><rect class="bV" x="1716" y="3002.6" width="227" height="28" rx="5"/><text class="tx cV" x="1723" y="3021.9">★ 中学九年级下学期数学教学总结5篇</text></g>
<g id="n-v5"><rect class="bV" x="1716" y="3059.8" width="209" height="28" rx="5"/><text class="tx cV" x="1723" y="3079.1">★ 初中数学教师教学反思10篇范文</text></g>
<g id="n-v6"><rect class="bV" x="1716" y="3117" width="202" height="28" rx="5"/><text class="tx cV" x="1723" y="3136.3">★ 初中数学教师教学反思范文5篇</text></g>
<g id="n-v7"><rect class="bV" x="1716" y="3174.2" width="202" height="28" rx="5"/><text class="tx cV" x="1723" y="3193.5">★ 初中数学教学反思范文最新5篇</text></g>
<g id="n-v8"><rect class="bV" x="1716" y="3231.4" width="189" height="28" rx="5"/><text class="tx cV" x="1723" y="3250.7">★ 初中数学教师教学反思的5篇</text></g>
<g id="n-v9"><rect class="bV" x="1716" y="3288.6" width="215" height="28" rx="5"/><text class="tx cV" x="1723" y="3307.9">★ 九年级数学教学个人总结最新5篇</text></g>
<g id="n-v10"><rect class="bV" x="1716" y="3345.8" width="214" height="28" rx="5"/><text class="tx cV" x="1723" y="3365.1">★ 2022万能教学反思模板范文10篇</text></g>
</g>
</svg>
